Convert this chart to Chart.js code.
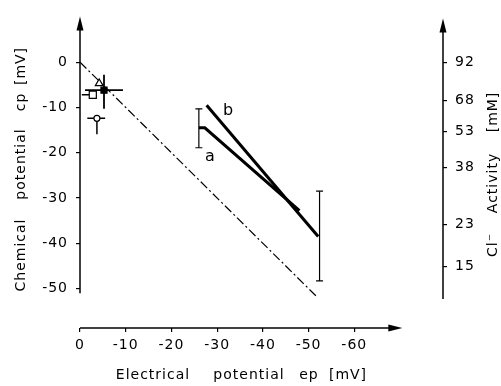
<!DOCTYPE html>
<html>
<head>
<meta charset="utf-8">
<script src="https://cdn.jsdelivr.net/npm/chart.js@4.4.1/dist/chart.umd.min.js"></script>
<style>
  body { margin: 0; background: #fff; }
</style>
</head>
<body>
<canvas id="potentialChart" width="501" height="386"></canvas>
<script>
// tick values
const epTicks = [0, -10, -20, -30, -40, -50, -60];
const cpTicks = [0, -10, -20, -30, -40, -50];
const clActivity = [92, 68, 53, 38, 23, 15];
const clActivityCp = [0, -8.4, -15.3, -23.2, -35.9, -45.2];

// series (x = electrical potential, y = chemical potential, mV)
const referenceLine = [{ x: 0, y: 0 }, { x: -52, y: -52 }];
const seriesA = [{ x: -26, y: -14.5 }, { x: -27.3, y: -14.5 }, { x: -48, y: -32.8 }];
const seriesB = [{ x: -27.7, y: -9.5 }, { x: -52.1, y: -38.5 }];
const errorA = [{ x: -26, y: -10.3 }, { x: -26, y: -18.9 }];
const errorB = [{ x: -52.4, y: -28.5 }, { x: -52.4, y: -48.3 }];
const filledSquare = [{ x: -5.25, y: -6.2 }];
const filledSquareErrX = [{ x: -1.1, y: -6.2 }, { x: -9.4, y: -6.2 }];
const filledSquareErrY = [{ x: -5.25, y: -2.8 }, { x: -5.25, y: -10.3 }];
const openSquare = [{ x: -2.8, y: -7.2 }];
const openSquareErrX = [{ x: -0.4, y: -7.2 }, { x: -2.8, y: -7.2 }];
const openTriangle = [{ x: -4.2, y: -4.7 }];
const openCircle = [{ x: -3.7, y: -12.4 }];
const openCircleErrX = [{ x: -1.6, y: -12.4 }, { x: -5.5, y: -12.4 }];
const openCircleErrY = [{ x: -3.7, y: -12.4 }, { x: -3.7, y: -15.9 }];

Chart.defaults.font.family = 'DejaVu Sans';
Chart.defaults.font.size = 14;
Chart.defaults.color = '#000';

function strich(daten, breite, extra) {
  return Object.assign({
    data: daten, showLine: true, borderColor: '#000', borderWidth: breite,
    pointRadius: 0, fill: false, order: 5
  }, extra || {});
}
function marke(daten, stil, radius, fuellung, extra) {
  return Object.assign({
    data: daten, showLine: false, pointStyle: stil, pointRadius: radius,
    pointBackgroundColor: fuellung, pointBorderColor: '#000', pointBorderWidth: 1.2, order: 1
  }, extra || {});
}
const kappe = { pointStyle: 'line', pointRadius: 3.5, pointBorderWidth: 1.2, pointBorderColor: '#000' };

function pfeil(ctx, tx, ty, richtung) {
  ctx.beginPath();
  if (richtung === 'hoch') {
    ctx.moveTo(tx, ty); ctx.lineTo(tx - 3.5, ty + 14); ctx.lineTo(tx + 3.5, ty + 14);
  } else {
    ctx.moveTo(tx, ty); ctx.lineTo(tx - 14, ty - 3.5); ctx.lineTo(tx - 14, ty + 3.5);
  }
  ctx.closePath();
  ctx.fill();
}

const achsenPlugin = {
  id: 'achsen',
  beforeDraw(chart) { chart.ctx.letterSpacing = '1px'; },
  afterDraw(chart) {
    const { ctx, chartArea: a } = chart;
    const x = chart.scales.x, y = chart.scales.y;
    ctx.save();
    ctx.strokeStyle = '#000'; ctx.fillStyle = '#000'; ctx.lineWidth = 1.5;
    // left axis
    ctx.beginPath(); ctx.moveTo(a.left, a.top + 8); ctx.lineTo(a.left, y.getPixelForValue(-51)); ctx.stroke();
    pfeil(ctx, a.left, a.top, 'hoch');
    // right axis
    ctx.beginPath(); ctx.moveTo(a.right, a.top + 10); ctx.lineTo(a.right, y.getPixelForValue(-52.3)); ctx.stroke();
    pfeil(ctx, a.right, a.top + 2, 'hoch');
    // bottom axis
    const xEnde = x.getPixelForValue(-70.5);
    ctx.beginPath(); ctx.moveTo(a.left, a.bottom); ctx.lineTo(xEnde - 8, a.bottom); ctx.stroke();
    pfeil(ctx, xEnde, a.bottom, 'rechts');

    // titles
    ctx.letterSpacing = '1px';
    ctx.font = '14px "DejaVu Sans"';
    ctx.textAlign = 'center'; ctx.textBaseline = 'middle';
    [['Electrical', 153], ['potential', 249], ['ep', 309], ['[mV]', 348]].forEach(([w, cx]) => ctx.fillText(w, cx, 375));
    [['Chemical', 255], ['potential', 164], ['cp', 102], ['[mV]', 66]].forEach(([w, cy]) => {
      ctx.save(); ctx.translate(21, cy); ctx.rotate(-Math.PI / 2); ctx.fillText(w, 0, 0); ctx.restore();
    });
    [['Cl\u207B', 245], ['Activity', 183], ['[mM]', 112]].forEach(([w, cy]) => {
      ctx.save(); ctx.translate(493, cy); ctx.rotate(-Math.PI / 2); ctx.fillText(w, 0, 0); ctx.restore();
    });
    // curve labels
    ctx.letterSpacing = '0px';
    ctx.font = '16px "DejaVu Sans"';
    ctx.fillText('b', x.getPixelForValue(-32.4), y.getPixelForValue(-10.8));
    ctx.fillText('a', x.getPixelForValue(-28.4), y.getPixelForValue(-20.9));
    ctx.restore();
  }
};

new Chart(document.getElementById('potentialChart'), {
  type: 'scatter',
  data: {
    datasets: [
      strich(referenceLine, 1.2, { borderDash: [9, 3, 2, 3], order: 9 }),
      strich(seriesA, 3),
      strich(seriesB, 3),
      strich(errorA, 1.2, kappe),
      strich(errorB, 1.2, kappe),
      strich(filledSquareErrX, 1.8, { order: 3 }),
      strich(filledSquareErrY, 1.8, { order: 3 }),
      strich(openSquareErrX, 1.5, { order: 3 }),
      strich(openCircleErrX, 1.5, { order: 3 }),
      strich(openCircleErrY, 1.5, { order: 3 }),
      marke(openTriangle, 'triangle', 4.5, '#fff', { order: 2 }),
      marke(openSquare, 'rect', 5, '#fff'),
      marke(filledSquare, 'rect', 4.3, '#000', { order: 0 }),
      marke(openCircle, 'circle', 3, '#fff')
    ]
  },
  options: {
    responsive: false,
    animation: false,
    layout: { padding: { top: 8, left: 0, right: 0, bottom: 0 } },
    plugins: { legend: { display: false }, tooltip: { enabled: false } },
    scales: {
      x: {
        type: 'linear', position: 'bottom', reverse: true, min: -79.4, max: 0,
        afterBuildTicks: s => { s.ticks = epTicks.map(v => ({ value: v })); },
        afterFit: s => { s.height = 58; },
        border: { display: false },
        grid: { drawOnChartArea: false, tickLength: 4, color: '#000', lineWidth: 1.2 },
        ticks: { padding: 5, color: '#000' }
      },
      y: {
        type: 'linear', position: 'left', min: -58.7, max: 10.1,
        afterBuildTicks: s => { s.ticks = cpTicks.map(v => ({ value: v })); },
        afterFit: s => { s.width = 80; },
        border: { display: false },
        grid: { drawOnChartArea: false, tickLength: 4, color: '#000', lineWidth: 1.2 },
        ticks: { padding: 8, color: '#000' }
      },
      y2: {
        type: 'linear', position: 'right', min: -58.7, max: 10.1,
        afterBuildTicks: s => { s.ticks = clActivityCp.map(v => ({ value: v })); },
        afterFit: s => { s.width = 58; },
        border: { display: false },
        grid: { drawOnChartArea: false, tickLength: 4, color: '#000', lineWidth: 1.2 },
        ticks: { padding: 8, color: '#000', callback: (v, i) => clActivity[i] }
      }
    }
  },
  plugins: [achsenPlugin]
});
</script>
</body>
</html>
